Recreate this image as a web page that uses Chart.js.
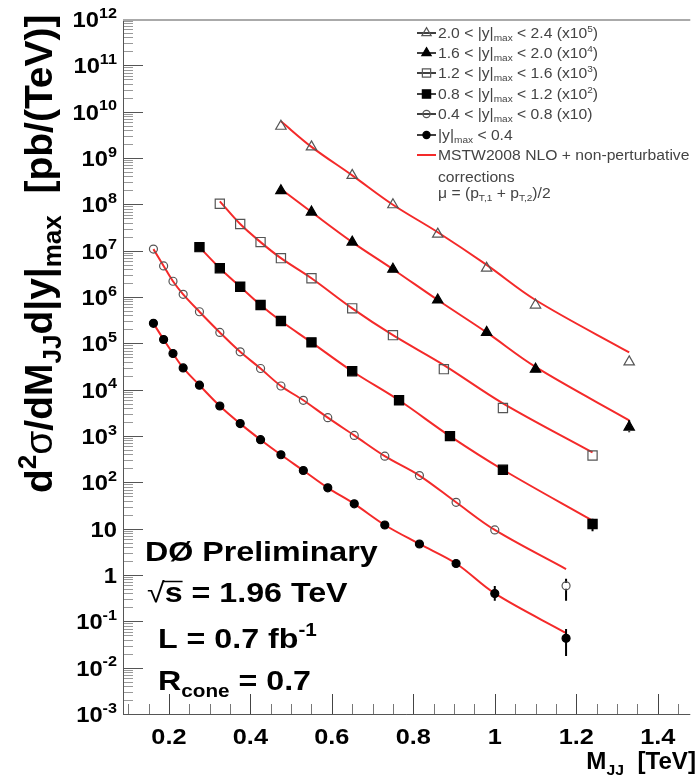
<!DOCTYPE html>
<html>
<head>
<meta charset="utf-8">
<script src="https://cdn.jsdelivr.net/npm/chart.js@4/dist/chart.umd.min.js"></script>
<style>
html, body { margin: 0; background: #fff; }
canvas { display: block; }
</style>
</head>
<body>
<canvas id="xsec" width="698" height="779"></canvas>
<script>
// dijet mass bin centres [TeV]
const binsLow = [0.162, 0.187, 0.21, 0.235, 0.275, 0.325, 0.375, 0.425, 0.475, 0.53, 0.59, 0.655, 0.73, 0.815, 0.905, 1.0, 1.175];
const binsMid = [0.275, 0.325, 0.375, 0.425, 0.475, 0.55, 0.65, 0.765, 0.89, 1.02, 1.24];
const binsFwd = [0.325, 0.375, 0.425, 0.475, 0.55, 0.65, 0.75, 0.875, 1.02, 1.24];
const binsFar = [0.475, 0.55, 0.65, 0.75, 0.86, 0.98, 1.1, 1.33];

// measured cross sections [pb/TeV], already multiplied by the offsets in the legend
const data00 = [2.70e5, 1.21e5, 6.04e4, 2.95e4, 1.25e4, 4.44e3, 1.85e3, 832, 394, 180, 76, 34.3, 12.0, 4.67, 1.77, 0.398, 0.043];
const data04 = [1.08e7, 4.69e6, 2.19e6, 1.14e6, 4.81e5, 1.72e5, 6.55e4, 2.86e4, 1.20e4, 5.90e3, 2.49e3, 1.03e3, 367, 140, 37.1, 9.38, 0.583];
const data08 = [1.19e7, 4.18e6, 1.67e6, 6.71e5, 3.03e5, 1.05e5, 2.50e4, 5.90e3, 995, 187, 12.6];
const data12 = [1.03e8, 3.75e7, 1.53e7, 6.89e6, 2.54e6, 5.69e5, 1.50e5, 2.77e4, 4.02e3, 380];
const data16 = [1.97e8, 6.81e7, 1.53e7, 3.98e6, 8.61e5, 1.72e5, 2.77e4, 1.56e3];
const data20 = [4.85e9, 1.74e9, 4.22e8, 9.80e7, 2.28e7, 4.18e6, 6.71e5, 3.98e4];

// error bar ends where they stick out of the markers (null = hidden by marker)
const errLo00 = [null, null, null, null, null, null, null, null, null, null, null, null, null, null, null, 0.277, 0.0178];
const errHi00 = [null, null, null, null, null, null, null, null, null, null, null, null, null, null, null, 0.58, 0.068];
const errLo04 = [null, null, null, null, null, null, null, null, null, null, null, null, null, null, null, null, 0.277];
const errHi04 = [null, null, null, null, null, null, null, null, null, null, null, null, null, null, null, null, 0.83];
const errLo08 = [null, null, null, null, null, null, null, null, null, null, 8.75];
const errHi08 = [null, null, null, null, null, null, null, null, null, null, 16.4];
const errLo16 = [null, null, null, null, null, null, null, 1.2e3];
const errHi16 = [null, null, null, null, null, null, null, 2.2e3];

// MSTW2008 NLO + non-perturbative corrections
const theory00 = [2.70e5, 1.21e5, 6.04e4, 2.95e4, 1.25e4, 4.44e3, 1.85e3, 832, 394, 180, 76, 34.3, 12.0, 4.67, 1.77, 0.40, 0.056];
const theory04 = [1.08e7, 4.69e6, 2.19e6, 1.14e6, 4.81e5, 1.72e5, 6.55e4, 2.86e4, 1.20e4, 5.90e3, 2.49e3, 1.03e3, 367, 140, 37.1, 9.38, 1.34];
const theory08 = [1.19e7, 4.18e6, 1.67e6, 6.71e5, 3.03e5, 1.05e5, 2.50e4, 5.90e3, 995, 187, 14.9];
const theory12 = [1.16e8, 3.75e7, 1.53e7, 6.89e6, 2.54e6, 5.69e5, 1.50e5, 3.4e4, 5.08e3, 442];
const theory16 = [2.14e8, 6.81e7, 1.53e7, 3.98e6, 8.61e5, 1.72e5, 3.1e4, 2.18e3];
const theory20 = [6.2e9, 1.74e9, 4.22e8, 9.80e7, 2.5e7, 4.93e6, 8.61e5, 6.35e4];

const xTicks = [0.2, 0.4, 0.6, 0.8, 1.0, 1.2, 1.4];
const xTickLabels = ['0.2', '0.4', '0.6', '0.8', '1', '1.2', '1.4'];
const yExponents = [-3, -2, -1, 0, 1, 2, 3, 4, 5, 6, 7, 8, 9, 10, 11, 12];

const X_MIN = 0.0873, X_MAX = 1.48;
const Y_MIN = 1e-3, Y_MAX = 1e12;

const FONT = '"Liberation Sans", Arial, Helvetica, sans-serif';
const RED = '#f42a2a';
const OPEN = '#555';

const pts = (xs, ys) => xs.map((x, i) => ({ x, y: ys[i] }));

// rich text: [text, 0 normal | 1 superscript | -1 subscript, optional weight]
function drawRich(ctx, segs, x, y, o) {
    const size = o.size;
    const small = Math.round(size * 0.66);
    const parts = segs.map(([t, k, wt]) => {
        const font = `${wt || o.weight || 'bold'} ${k === 0 ? size : small}px ${FONT}`;
        ctx.font = font;
        return { t, font, w: ctx.measureText(t).width, dy: k > 0 ? -size * 0.42 : k < 0 ? size * 0.24 : 0 };
    });
    const total = parts.reduce((s, p) => s + p.w, 0);
    ctx.save();
    ctx.translate(x, y);
    if (o.rotate) ctx.rotate(o.rotate);
    ctx.scale(o.sx || 1, 1);
    let cx = o.align === 'right' ? -total : o.align === 'center' ? -total / 2 : 0;
    ctx.fillStyle = o.color || '#000';
    ctx.textBaseline = 'alphabetic';
    ctx.textAlign = 'left';
    parts.forEach((p) => {
        ctx.font = p.font;
        ctx.fillText(p.t, cx, p.dy);
        cx += p.w;
    });
    ctx.restore();
    return total * (o.sx || 1);
}

function drawMarker(ctx, style, filled, x, y, r) {
    ctx.save();
    ctx.lineWidth = 1.2;
    ctx.strokeStyle = filled ? '#000' : OPEN;
    ctx.fillStyle = '#000';
    ctx.beginPath();
    if (style === 'circle') {
        ctx.arc(x, y, r, 0, Math.PI * 2);
    } else if (style === 'rect') {
        const s = r * Math.SQRT1_2;
        ctx.rect(x - s, y - s, 2 * s, 2 * s);
    } else {
        for (let i = 0; i < 3; i++) {
            const a = i * 2 * Math.PI / 3;
            const px = x + Math.sin(a) * r, py = y - Math.cos(a) * r;
            i ? ctx.lineTo(px, py) : ctx.moveTo(px, py);
        }
        ctx.closePath();
    }
    if (filled) ctx.fill();
    ctx.stroke();
    ctx.restore();
}

const series = [
    { label: '2.0-2.4', xs: binsFar, ys: data20, th: theory20, style: 'triangle', filled: false, r: 6 },
    { label: '1.6-2.0', xs: binsFar, ys: data16, th: theory16, style: 'triangle', filled: true, r: 6, lo: errLo16, hi: errHi16 },
    { label: '1.2-1.6', xs: binsFwd, ys: data12, th: theory12, style: 'rect', filled: false, r: 6.5 },
    { label: '0.8-1.2', xs: binsMid, ys: data08, th: theory08, style: 'rect', filled: true, r: 6.5, lo: errLo08, hi: errHi08 },
    { label: '0.4-0.8', xs: binsLow, ys: data04, th: theory04, style: 'circle', filled: false, r: 4, lo: errLo04, hi: errHi04 },
    { label: '0-0.4', xs: binsLow, ys: data00, th: theory00, style: 'circle', filled: true, r: 4, lo: errLo00, hi: errHi00 },
];

const legendRows = [
    [['2.0 < |y|', 0], ['max', -1], [' < 2.4 (x10', 0], ['5', 1], [')', 0]],
    [['1.6 < |y|', 0], ['max', -1], [' < 2.0 (x10', 0], ['4', 1], [')', 0]],
    [['1.2 < |y|', 0], ['max', -1], [' < 1.6 (x10', 0], ['3', 1], [')', 0]],
    [['0.8 < |y|', 0], ['max', -1], [' < 1.2 (x10', 0], ['2', 1], [')', 0]],
    [['0.4 < |y|', 0], ['max', -1], [' < 0.8 (x10)', 0]],
    [['|y|', 0], ['max', -1], [' < 0.4', 0]],
    [['MSTW2008 NLO + non-perturbative', 0]],
    [['corrections', 0]],
    [['\u03bc = (p', 0], ['T,1', -1], [' + p', 0], ['T,2', -1], [')/2', 0]],
];
const legendRowY = [33, 53, 73, 94, 114, 135, 155, 177, 193];

const markerSets = series.map((s) => ({
    label: s.label,
    data: pts(s.xs, s.ys),
    pointStyle: s.style,
    pointRadius: s.r,
    pointBorderWidth: 1.2,
    pointBorderColor: s.filled ? '#000' : OPEN,
    pointBackgroundColor: s.filled ? '#000' : 'rgba(0,0,0,0)',
    showLine: false,
}));

const theorySets = series.map((s) => ({
    label: s.label + ' theory',
    data: pts(s.xs, s.th),
    showLine: true,
    borderColor: RED,
    borderWidth: 2,
    pointRadius: 0,
    tension: 0.35,
}));

// axes, ticks and error bars in ROOT style (ticks drawn inside the frame)
const frame = {
    id: 'frame',
    beforeDatasetsDraw(chart) {
        const { ctx, chartArea: a, scales: { x, y } } = chart;
        ctx.save();
        ctx.lineWidth = 1;
        yExponents.forEach((e) => {
            for (let m = 1; m <= 9; m++) {
                const v = m * Math.pow(10, e);
                if (v > Y_MAX * 1.001) break;
                const py = Math.round(y.getPixelForValue(v)) + 0.5;
                ctx.strokeStyle = m === 1 ? '#555' : '#999';
                ctx.beginPath();
                ctx.moveTo(a.left, py);
                ctx.lineTo(a.left + (m === 1 ? 20 : 10), py);
                ctx.stroke();
            }
        });
        for (let t = 0.1; t < X_MAX; t += 0.05) {
            const major = Math.abs(t / 0.2 - Math.round(t / 0.2)) < 1e-6;
            const px = Math.round(x.getPixelForValue(t)) + 0.5;
            ctx.strokeStyle = major ? '#444' : '#777';
            ctx.beginPath();
            ctx.moveTo(px, a.bottom);
            ctx.lineTo(px, a.bottom - (major ? 20 : 10));
            ctx.stroke();
        }
        ctx.strokeStyle = '#555';
        ctx.beginPath();
        ctx.moveTo(a.left + 0.5, a.top);
        ctx.lineTo(a.left + 0.5, a.bottom + 0.5);
        ctx.lineTo(a.right, a.bottom + 0.5);
        ctx.stroke();
        ctx.strokeStyle = '#aaa';
        ctx.lineWidth = 2;
        ctx.beginPath();
        ctx.moveTo(a.left, a.top + 1);
        ctx.lineTo(a.right, a.top + 1);
        ctx.stroke();
        ctx.restore();
    },
    beforeDatasetDraw(chart, args) {
        if (args.index !== markerSets.length - 1) return;
        const { ctx, scales: { x, y } } = chart;
        ctx.save();
        ctx.strokeStyle = '#000';
        ctx.lineWidth = 2;
        series.forEach((s) => {
            if (!s.lo) return;
            s.xs.forEach((xv, i) => {
                if (s.lo[i] == null) return;
                const px = x.getPixelForValue(xv);
                const py = y.getPixelForValue(s.ys[i]);
                ctx.beginPath();
                ctx.moveTo(px, y.getPixelForValue(s.lo[i]));
                ctx.lineTo(px, py + s.r * 0.7);
                ctx.moveTo(px, py - s.r * 0.7);
                ctx.lineTo(px, y.getPixelForValue(s.hi[i]));
                ctx.stroke();
            });
        });
        ctx.restore();
    },
    afterDraw(chart) {
        const { ctx, scales: { x, y } } = chart;

        // y tick labels
        yExponents.forEach((e) => {
            const py = y.getPixelForValue(Math.pow(10, e)) + 8;
            const segs = e === 0 ? [['1', 0]] : e === 1 ? [['10', 0]] : [['10', 0], [String(e), 1]];
            drawRich(ctx, segs, 117, py, { size: 22, align: 'right', sx: 1.08 });
        });
        // x tick labels
        xTicks.forEach((t, i) => {
            drawRich(ctx, [[xTickLabels[i], 0]], x.getPixelForValue(t), 744, { size: 22, align: 'center', sx: 1.15 });
        });
        // axis titles
        drawRich(ctx, [['M', 0], ['JJ', -1], ['  [TeV]', 0]], 696, 769, { size: 23, align: 'right', sx: 1.05 });
        drawRich(ctx, [['d', 0], ['2', 1], ['\u03c3', 0, 'normal'], ['/dM', 0], ['JJ', -1], ['d|y|', 0], ['max', -1], ['  [pb/(TeV)]', 0]],
            52, 493, { size: 39, rotate: -Math.PI / 2 });

        // experiment text
        drawRich(ctx, [['D\u00d8 Preliminary', 0]], 145, 561, { size: 28, sx: 1.15 });
        const w = drawRich(ctx, [['\u221a', 0, 'normal']], 147, 602, { size: 28, sx: 1.15 });
        const ws = drawRich(ctx, [['s', 0]], 147 + w, 602, { size: 28, sx: 1.15 });
        ctx.save();
        ctx.strokeStyle = '#000';
        ctx.lineWidth = 1.5;
        ctx.beginPath();
        ctx.moveTo(147 + w - 1, 581.5);
        ctx.lineTo(147 + w + ws, 581.5);
        ctx.stroke();
        ctx.restore();
        drawRich(ctx, [[' = 1.96 TeV', 0]], 147 + w + ws, 602, { size: 28, sx: 1.15 });
        drawRich(ctx, [['L = 0.7 fb', 0], ['-1', 1]], 158, 648, { size: 28, sx: 1.15 });
        drawRich(ctx, [['R', 0], ['cone', -1], [' = 0.7', 0]], 158, 690, { size: 28, sx: 1.15 });

        // legend
        series.forEach((s, i) => {
            const ly = legendRowY[i];
            ctx.save();
            ctx.strokeStyle = '#000';
            ctx.lineWidth = 1.5;
            ctx.beginPath();
            ctx.moveTo(417, ly);
            ctx.lineTo(436, ly);
            ctx.stroke();
            ctx.restore();
            drawMarker(ctx, s.style, s.filled, 426.5, ly, s.r * 0.9);
        });
        ctx.save();
        ctx.strokeStyle = RED;
        ctx.lineWidth = 2;
        ctx.beginPath();
        ctx.moveTo(417, legendRowY[6]);
        ctx.lineTo(436, legendRowY[6]);
        ctx.stroke();
        ctx.restore();
        legendRows.forEach((segs, i) => {
            drawRich(ctx, segs, 438, legendRowY[i] + 5, { size: 14, weight: 'normal', color: '#444', sx: 1.12 });
        });
    },
};

new Chart(document.getElementById('xsec'), {
    type: 'scatter',
    data: { datasets: [...markerSets, ...theorySets] },
    options: {
        responsive: false,
        animation: false,
        layout: { padding: { left: 123, right: 0, top: 19, bottom: 65 } },
        scales: {
            x: { type: 'linear', display: false, min: X_MIN, max: X_MAX },
            y: { type: 'logarithmic', display: false, min: Y_MIN, max: Y_MAX },
        },
        plugins: {
            legend: { display: false },
            tooltip: { enabled: false },
        },
    },
    plugins: [frame],
});
</script>
</body>
</html>
